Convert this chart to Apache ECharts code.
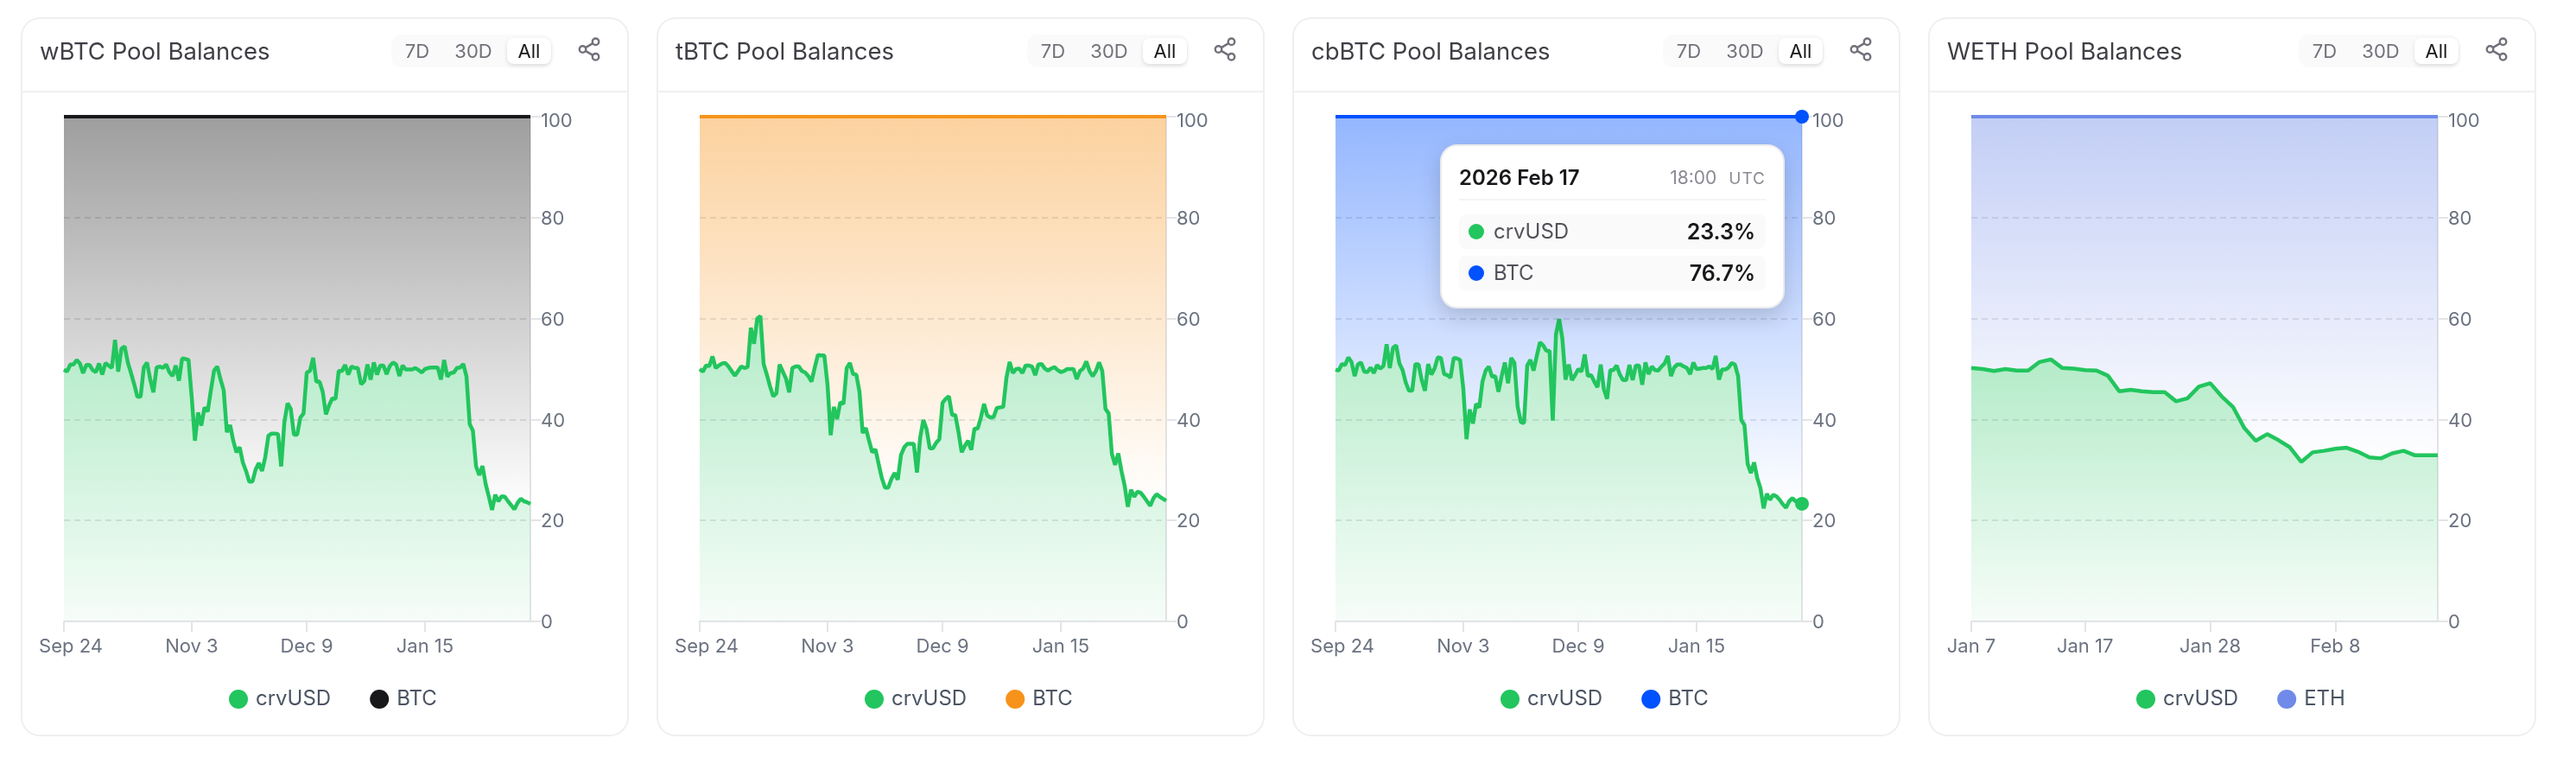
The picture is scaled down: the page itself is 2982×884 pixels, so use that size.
<!DOCTYPE html>
<html>
<head>
<meta charset="utf-8">
<title>Pool Balances</title>
<script src="https://cdn.jsdelivr.net/npm/echarts@6/dist/echarts.min.js"></script>
<style>
html,body{margin:0;padding:0;background:#fff;width:2982px;height:884px;overflow:hidden;font-family:Inter,sans-serif;}
.card{position:absolute;top:20px;width:704px;height:832px;border-radius:22px;box-shadow:inset 0 0 0 2px #efeff0;background:#fff;}
.card .divider{position:absolute;left:0;right:0;top:85px;height:2px;background:#f0f0f1;}
.card .chart{position:absolute;left:0;top:0;width:704px;height:832px;}
.range{position:absolute;left:429px;top:20px;width:186px;height:38px;border-radius:12px;background:#fafafa;font-size:22px;color:#71717a;z-index:2;}
.range span{position:absolute;top:0;line-height:38px;transform:translateX(-50%);}
.range .on{left:134px;top:4px;width:51px;height:30px;line-height:30px;text-align:center;transform:none;background:#fff;border-radius:8px;color:#18181b;box-shadow:0 2px 5px rgba(0,0,0,.12);}
.share{position:absolute;left:643px;top:22px;width:30px;height:30px;z-index:2;}
</style>
</head>
<body>
<script>
var crvusd_wbtc=[
49.9,49.5,50.9,50.9,51.8,51.1,49.2,50.8,50.8,49.8,
49.4,51.1,48.9,51.2,50.7,50.2,55.8,49.5,54,54.5,
51.3,49.2,47,44.5,44.5,50.3,51.3,48,45.4,50.3,
50.5,50.2,50.9,49.4,48.6,50.7,47.7,52.1,52,51.8,
44.4,35.8,41.4,38.8,42.4,41.6,45.8,49.7,50.5,48,
45.8,37.5,38.9,35.8,33.5,34.5,31.5,29.8,27.7,27.7,
30.1,31.4,29.8,32.5,36.8,37.2,37.2,37.1,30.7,39.5,
43.2,42.1,37,37,40.4,41.2,49.3,49.6,52.2,47.5,
47.5,45.5,41,42.8,44.2,44.1,49.6,49.6,50.8,48.9,
50.5,50.2,50.2,47,47.6,50.9,47.9,51.3,48.9,50.7,
50.7,49,50.6,51.3,50.9,48.6,50.7,49.9,49.9,49.9,
50.2,49.8,49.3,50,50.2,50.3,50.3,50.3,47.9,51.8,
48.5,49.2,49.3,50.2,50.3,51,48.5,39.1,37.8,30.7,
29,30.8,27.2,24.7,22.1,25.1,23.8,24.8,24.7,23.8,
23,22.2,23.5,24.3,23.8,23.6,23.3];
var crvusd_tbtc=[
50,49.5,50.7,50.6,52.5,50.2,50.7,51.1,51.2,50.5,
49.6,48.7,49.6,50.5,50.2,50.4,58.2,55,60,60.5,
51,48.9,46.6,44.6,45.2,50.9,49.5,48.1,45.4,50.2,
50.5,50.5,49.6,49.3,48.6,47.5,50.3,52.8,52.7,52.7,
46.9,36.9,42.5,40.1,43.4,43.1,50.2,51.2,49,48.9,
45.5,37.3,38.3,35.8,33.5,34.1,31.2,28.4,26.5,26.5,
28.2,29.4,28.1,33,34.5,35.2,35.2,35.2,29.5,36.4,
39.9,38.1,34.3,34.3,35.4,36.1,43.3,44.1,44.6,40.9,
40.9,37.5,33.5,34.8,35.8,34,38.2,38.2,40.4,43.1,
40.8,40.4,40.5,42.3,42.4,42.5,48.3,51.4,49.2,50,
50.1,49.2,50.7,50.7,50.5,48.8,50.9,51,50.1,49.7,
50.1,50.4,49.8,49.4,49.6,50,50,50,48,49.6,
50.1,51.5,49.6,48.6,49.6,51.3,49.6,42.1,41.2,33.2,
31,33.3,29.8,26.9,22.7,26.1,24.7,25.7,25.5,24.7,
23.8,22.9,24.4,25.2,24.7,24.3,23.9];
var crvusd_cbbtc=[
49.9,49.7,51,50.8,52.3,51.4,48.6,50.9,51.3,49.5,
49.4,50.3,49.2,50.8,50.1,50.6,54.9,50.2,54.2,54.7,
51.1,49.8,47.3,45.7,45.7,51,50.9,47.8,45.7,51,
48.9,50.1,52.3,52.2,49,48.8,48.3,52.2,52.1,51.8,
46.1,36.1,42,39.2,43.1,42.4,47.5,49.7,50.5,48.5,
48.6,45.5,48.6,51.3,47.2,52.2,51.2,42.6,39.5,39.3,
50.7,51.8,49.7,52.6,55.3,54.7,53.6,53.6,39.8,56.9,
59.9,56,47.9,50.9,47.8,48.8,50,49.5,52.9,48.6,
48.8,47.5,46.4,50.9,46,44.1,49.8,49.8,50.7,48.9,
47.8,47.8,50.8,47.8,50.7,50.7,46.9,51.3,49,50.5,
49.8,49.7,50.5,51.1,52.6,48.6,50.3,50.9,50.9,50.5,
50.2,49,51.3,50,50.1,50.2,50.2,50.5,50,52.6,
47.9,49.9,49.9,50.3,51.2,50.9,48.6,39.9,38.9,31.2,
29.4,31.5,28.4,26.4,22.4,25.3,24.1,25.1,24.8,24.1,
23.2,22.5,23.8,24.4,23.8,23.5,23.3];
var crvusd_weth=[
50.2,50,49.6,50,49.7,49.7,51.4,51.9,50.2,50.1,
49.8,49.7,48.7,45.6,45.9,45.6,45.4,45.4,43.6,44.2,
46.5,47.2,44.6,42.5,38.3,35.8,37.1,35.9,34.5,31.6,
33.5,33.8,34.2,34.4,33.6,32.5,32.3,33.3,33.8,32.9,
32.9,32.9];
var ticks_btc=['Sep 24','Nov 3','Dec 9','Jan 15'];
var ticks_eth=['Jan 7','Jan 17','Jan 28','Feb 8'];
var yticks=[0,20,40,60,80,100];

var pools=[
	{name:'wBTC',left:24,asset:'BTC',color:'#18181b',crvusd:crvusd_wbtc,start:'2025-09-24',ticks:ticks_btc},
	{name:'tBTC',left:760,asset:'BTC',color:'#f7931a',crvusd:crvusd_tbtc,start:'2025-09-24',ticks:ticks_btc},
	{name:'cbBTC',left:1496,asset:'BTC',color:'#0052ff',crvusd:crvusd_cbbtc,start:'2025-09-24',ticks:ticks_btc,hover:true},
	{name:'WETH',left:2232,asset:'ETH',color:'#6f8ae8',crvusd:crvusd_weth,start:'2026-01-07',ticks:ticks_eth}
];

function hexa(hex,a){
	var n=parseInt(hex.slice(1),16);
	return 'rgba('+(n>>16)+','+((n>>8)&255)+','+(n&255)+','+a+')';
}
function fade(hex,top,bottom){
	return new echarts.graphic.LinearGradient(0,0,0,1,[{offset:0,color:hexa(hex,top)},{offset:1,color:hexa(hex,bottom)}]);
}
function dayNames(start,n){
	var t=new Date(start+'T00:00:00Z').getTime(),out=[];
	for(var i=0;i<n;i++){
		out.push(new Date(t+i*86400000).toLocaleDateString('en-US',{month:'short',day:'numeric',timeZone:'UTC'}));
	}
	return out;
}
var shareSvg='<svg viewBox="0 0 24 24" width="30" height="30" fill="none" stroke="#71717a" stroke-width="1.9"><circle cx="18" cy="5" r="3"/><circle cx="6" cy="12" r="3"/><circle cx="18" cy="19" r="3"/><line x1="8.6" y1="13.5" x2="15.4" y2="17.5"/><line x1="15.4" y1="6.5" x2="8.6" y2="10.5"/></svg>';

pools.forEach(function(p){
	var card=document.createElement('div');
	card.className='card';
	card.style.left=p.left+'px';
	card.innerHTML='<div class="divider"></div><div class="chart"></div>'
		+'<div class="range"><span style="left:30px">7D</span><span style="left:95px">30D</span><span class="on">All</span></div>'
		+'<div class="share">'+shareSvg+'</div>';
	document.body.appendChild(card);

	var days=dayNames(p.start,p.crvusd.length);
	var last=days.length-1;
	var other=p.crvusd.map(function(v){return +(100-v).toFixed(1);});
	var isTick=function(i){return p.ticks.indexOf(days[i])>-1;};
	var endDot=function(v,params){return params.dataIndex==last?16:0;};
	var ylabel={fontFamily:'Inter',fontSize:22,color:'#6b7280'};

	var chart=echarts.init(card.querySelector('.chart'));
	chart.setOption({
		animation:false,
		title:{text:p.name+' Pool Balances',left:17,top:22,textStyle:{fontFamily:'Inter',fontSize:27.5,fontWeight:400,color:'#3f3f46'}},
		legend:{
			left:236,top:772,icon:'circle',itemWidth:22,itemHeight:22,itemGap:45,selectedMode:false,
			textStyle:{fontFamily:'Inter',fontSize:24,color:'#4b5563',padding:[0,0,0,4]},
			data:['crvUSD',p.asset]
		},
		grid:{left:50,top:115,width:540,height:584},
		tooltip:{
			show:!!p.hover,trigger:'axis',confine:false,padding:0,borderWidth:0,backgroundColor:'transparent',transitionDuration:0,
			extraCssText:'box-shadow:none;',
			position:[171,147],
			axisPointer:{type:'line',z:1,lineStyle:{color:'#e4e4e7',type:'dashed',width:2},label:{show:false}},
			formatter:function(params){
				var rows=params.map(function(s){
					return '<div style="position:relative;height:40px;line-height:40px;margin-bottom:8px;background:#fafafa;border-radius:8px;">'
						+'<i style="position:absolute;left:11px;top:11px;width:18px;height:18px;border-radius:50%;background:'+s.color+'"></i>'
						+'<span style="position:absolute;left:40px;color:#52525b;font-size:24px;">'+s.seriesName+'</span>'
						+'<b style="position:absolute;right:12px;color:#18181b;font-size:25px;font-weight:600;">'+s.value.toFixed(1)+'%</b></div>';
				}).join('');
				return '<div style="box-sizing:border-box;width:399px;height:190px;padding:0 20px;background:#fff;border:2px solid #ebebec;border-radius:20px;box-shadow:0 10px 26px rgba(0,0,0,.16);font-family:Inter;">'
					+'<div style="position:relative;height:61px;line-height:74px;border-bottom:2px solid #f4f4f5;margin-bottom:16px;font-size:24px;font-weight:600;color:#18181b;">2026 Feb 17'
					+'<span style="position:absolute;right:0;font-size:21px;font-weight:400;color:#8b8b94;">18:00<span style="margin-left:14px;font-size:19px;letter-spacing:1px;">UTC</span></span></div>'
					+rows+'</div>';
			}
		},
		xAxis:{
			type:'category',data:days,boundaryGap:false,
			axisLine:{lineStyle:{color:'#e4e4e7',width:2}},
			axisTick:{length:12,interval:function(i){return isTick(i);},lineStyle:{color:'#e4e4e7',width:2}},
			axisLabel:{
				interval:function(i){return isTick(i);},hideOverlap:false,showMinLabel:true,margin:18,
				fontFamily:'Inter',fontSize:22,color:'#6b7280',
				formatter:function(v){return v=='Sep 24'?'{first|'+v+'}':v;},
				rich:{first:{padding:[0,0,0,16],fontFamily:'Inter',fontSize:22,color:'#6b7280'}}
			},
			splitLine:{show:false}
		},
		yAxis:{
			type:'value',position:'right',min:yticks[0],max:yticks[yticks.length-1],interval:yticks[1]-yticks[0],
			axisLine:{show:true,lineStyle:{color:'#e4e4e7',width:2}},
			axisTick:{show:true,length:12,lineStyle:{color:'#e4e4e7',width:2}},
			axisLabel:{
				margin:12,fontFamily:'Inter',fontSize:22,color:'#6b7280',
				formatter:function(v){return v==100?'{top|100}':'{low|'+v+'}';},
				rich:{
					top:Object.assign({padding:[10,0,0,0]},ylabel),
					low:Object.assign({padding:[3,0,0,0]},ylabel)
				}
			},
			splitLine:{lineStyle:{color:'#e4e4e7',type:[7,5],width:2}}
		},
		series:[
			{
				name:'crvUSD',type:'line',stack:'total',data:p.crvusd,z:3,
				color:'#22c55e',lineStyle:{color:'#22c55e',width:4.5},itemStyle:{color:'#22c55e'},
				areaStyle:{opacity:1,color:fade('#22c55e',0.34,0.04)},
				symbol:'circle',showSymbol:!!p.hover,showAllSymbol:true,symbolSize:endDot,clip:false,emphasis:{scale:false,disabled:true}
			},
			{
				name:p.asset,type:'line',stack:'total',data:other,z:2,
				color:p.color,lineStyle:{color:p.color,width:4},itemStyle:{color:p.color},
				areaStyle:{opacity:1,color:fade(p.color,0.42,0)},
				symbol:'circle',showSymbol:!!p.hover,showAllSymbol:true,symbolSize:endDot,clip:false,emphasis:{scale:false,disabled:true}
			}
		]
	});
	if(p.hover){
		chart.dispatchAction({type:'showTip',seriesIndex:0,dataIndex:last});
	}
});
</script>
</body>
</html>
